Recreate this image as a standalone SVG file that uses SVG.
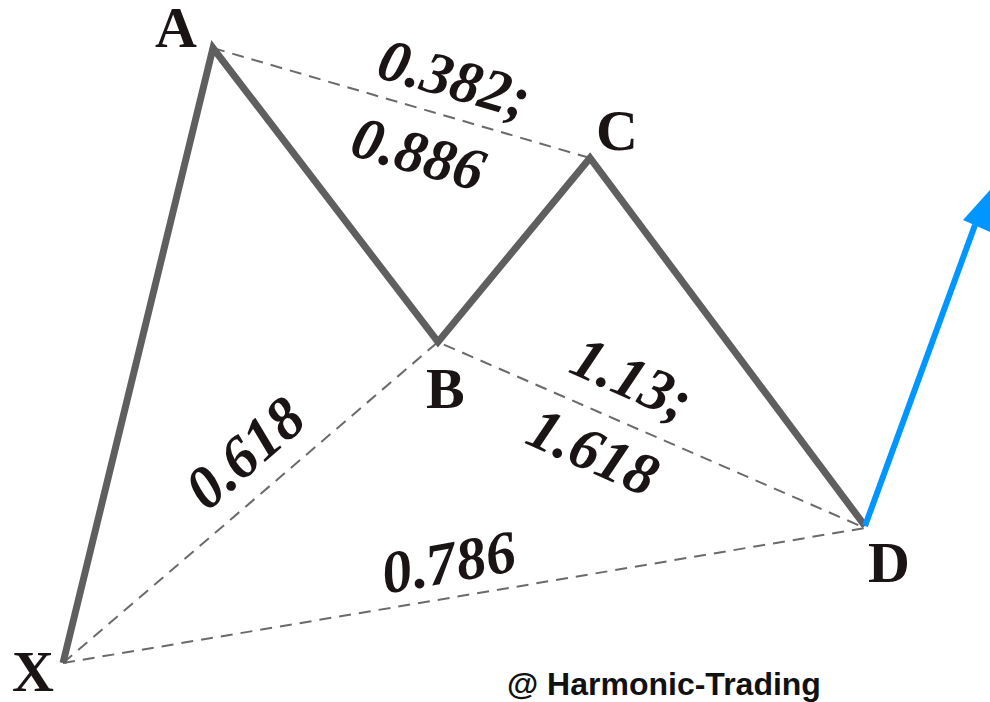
<svg xmlns="http://www.w3.org/2000/svg" width="990" height="702" viewBox="0 0 990 702">
<style>
.leg{fill:none;stroke:#5f5f5f;stroke-width:7;stroke-linejoin:miter;stroke-linecap:butt}
.dash{fill:none;stroke:#6a6a6a;stroke-width:2;stroke-dasharray:12 8}
.pt{font-family:"Liberation Serif","Times New Roman",serif;font-weight:bold;font-size:58px;fill:#1a1414}
.num{font-family:"Liberation Serif","Times New Roman",serif;font-weight:bold;font-style:italic;font-size:60px;fill:#1a1414;text-anchor:middle}
.wm{font-family:"Liberation Sans",Arial,sans-serif;font-weight:bold;font-size:32px;fill:#111}
</style>
<rect width="990" height="702" fill="#fff"/>
<g id="connectors">
<path class="dash" d="M213,48 L590,158"/>
<path class="dash" d="M63,663 L438,342 L865,528"/>
<path class="dash" d="M63,663 L865,528"/>
<path class="leg" d="M63,663 L213,48 L438,342 L590,158 L865,526"/>
<path d="M865,526 L975,225" fill="none" stroke="#0096ff" stroke-width="6"/>
<polygon points="990,190 963,220 990,232" fill="#0096ff"/>
</g>
<g id="X"><text class="pt" x="12" y="691">X</text></g>
<g id="A"><text class="pt" x="155" y="47">A</text></g>
<g id="B"><text class="pt" x="426" y="408">B</text></g>
<g id="C"><text class="pt" x="596" y="150">C</text></g>
<g id="D"><text class="pt" x="868" y="582">D</text></g>
<g id="lbl-AC">
<text class="num" transform="translate(449,98) rotate(16)">0.382;</text>
<text class="num" transform="translate(413,173) rotate(16)">0.886</text>
</g>
<g id="lbl-BD">
<text class="num" transform="translate(624,397) rotate(24)">1.13;</text>
<text class="num" transform="translate(585,470) rotate(24)">1.618</text>
</g>
<g id="lbl-XB"><text class="num" transform="translate(258,468) rotate(-41)">0.618</text></g>
<g id="lbl-XD"><text class="num" transform="translate(452,582) rotate(-10)">0.786</text></g>
<g id="watermark"><text class="wm" x="507" y="695">@ Harmonic-Trading</text></g>
</svg>
